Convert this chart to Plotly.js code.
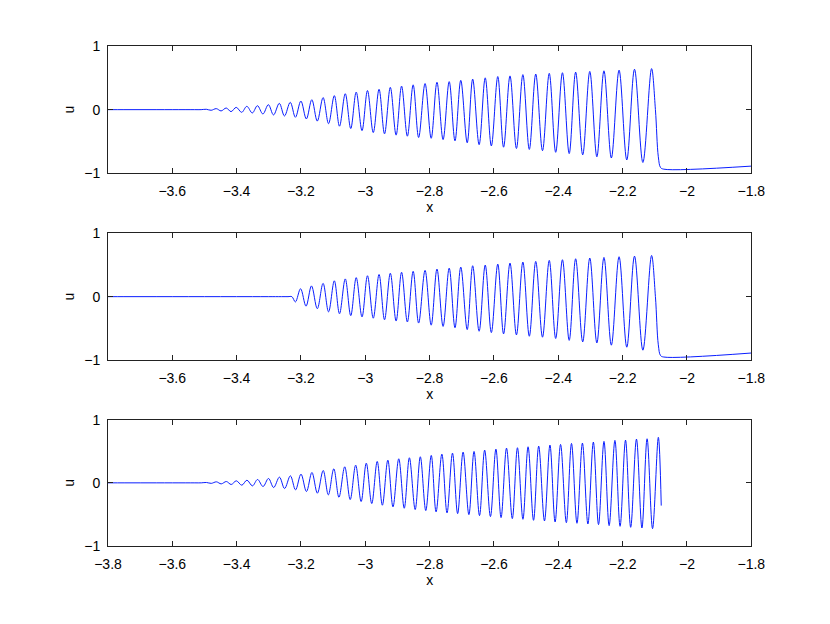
<!DOCTYPE html>
<html>
<head>
<meta charset="utf-8">
<script src="https://cdn.plot.ly/plotly-3.0.1.min.js"></script>
<style>html,body{margin:0;padding:0;background:#fff;}#chart{width:830px;height:624px;}</style>
</head>
<body>
<div id="chart"></div>
<script>
// ---------- Panel 1 ----------
const P1_PEAK_X = [-3.494,-3.463,-3.432,-3.401,-3.368,-3.335,-3.301,-3.267,-3.233,-3.200,-3.166,-3.131,-3.096,-3.062,-3.028,-2.993,-2.957,-2.922,-2.887,-2.851,-2.814,-2.777,-2.739,-2.703,-2.666,-2.627,-2.588,-2.550,-2.510,-2.470,-2.428,-2.387,-2.346,-2.302,-2.258,-2.211,-2.163,-2.110];
const P1_PEAK_U = [0.006,0.016,0.026,0.036,0.052,0.062,0.078,0.099,0.115,0.135,0.156,0.19,0.22,0.25,0.276,0.30,0.32,0.35,0.37,0.39,0.41,0.43,0.44,0.46,0.48,0.50,0.52,0.53,0.55,0.56,0.57,0.58,0.59,0.60,0.61,0.62,0.635,0.645];
const P1_TROUGH_X = [-3.479,-3.448,-3.417,-3.384,-3.351,-3.318,-3.285,-3.251,-3.217,-3.183,-3.149,-3.114,-3.080,-3.045,-3.010,-2.975,-2.940,-2.904,-2.869,-2.834,-2.795,-2.758,-2.721,-2.683,-2.646,-2.608,-2.570,-2.530,-2.490,-2.449,-2.408,-2.366,-2.324,-2.280,-2.235,-2.187,-2.137];
const P1_TROUGH_U = [-0.01,-0.02,-0.031,-0.042,-0.052,-0.068,-0.083,-0.099,-0.12,-0.146,-0.18,-0.22,-0.26,-0.297,-0.33,-0.36,-0.38,-0.40,-0.417,-0.437,-0.45,-0.47,-0.49,-0.52,-0.55,-0.57,-0.59,-0.61,-0.625,-0.645,-0.67,-0.69,-0.71,-0.74,-0.76,-0.79,-0.83];
const P1_EDGE_X = [-3.8,-3.75,-3.7,-3.65,-3.6,-3.56,-3.53,-3.51,-2.098,-2.089,-2.082,-2.072,-1.8];
const P1_EDGE_U = [0,0,0,0,0,0,0,0,0.0,-0.74,-0.91,-0.935,-0.887];

// ---------- Panel 2 ----------
const P2_PEAK_X = [-3.201,-3.167,-3.131,-3.096,-3.062,-3.028,-2.993,-2.957,-2.922,-2.887,-2.851,-2.814,-2.777,-2.739,-2.703,-2.666,-2.627,-2.588,-2.550,-2.510,-2.470,-2.428,-2.387,-2.346,-2.302,-2.258,-2.211,-2.163,-2.110];
const P2_PEAK_U = [0.125,0.17,0.21,0.25,0.28,0.30,0.33,0.35,0.37,0.385,0.40,0.415,0.436,0.45,0.467,0.488,0.499,0.514,0.53,0.546,0.556,0.572,0.583,0.598,0.609,0.619,0.63,0.64,0.65];
const P2_TROUGH_X = [-3.217,-3.184,-3.149,-3.114,-3.080,-3.045,-3.010,-2.975,-2.940,-2.904,-2.869,-2.834,-2.795,-2.758,-2.721,-2.683,-2.646,-2.608,-2.570,-2.530,-2.490,-2.449,-2.408,-2.366,-2.324,-2.280,-2.235,-2.187,-2.137];
const P2_TROUGH_U = [-0.083,-0.15,-0.19,-0.24,-0.27,-0.30,-0.32,-0.34,-0.365,-0.385,-0.40,-0.417,-0.45,-0.47,-0.49,-0.52,-0.546,-0.567,-0.588,-0.604,-0.625,-0.64,-0.66,-0.69,-0.714,-0.73,-0.766,-0.798,-0.845];
const P2_EDGE_X = [-3.8,-3.75,-3.7,-3.65,-3.6,-3.55,-3.5,-3.45,-3.4,-3.35,-3.3,-3.26,-3.24,-3.228,-2.098,-2.089,-2.082,-2.072,-1.8];
const P2_EDGE_U = [0,0,0,0,0,0,0,0,0,0,0,0,0,0,0.0,-0.76,-0.93,-0.953,-0.89];

// ---------- Panel 3 ----------
const P3_PEAK_X = [-3.463,-3.432,-3.401,-3.368,-3.335,-3.301,-3.267,-3.233,-3.200,-3.166,-3.131,-3.098,-3.064,-3.030,-2.997,-2.963,-2.930,-2.896,-2.863,-2.829,-2.795,-2.762,-2.729,-2.696,-2.662,-2.629,-2.594,-2.561,-2.527,-2.494,-2.461,-2.426,-2.393,-2.359,-2.325,-2.291,-2.258,-2.224,-2.191,-2.157,-2.124,-2.089];
const P3_PEAK_U = [0.016,0.021,0.032,0.042,0.053,0.069,0.09,0.111,0.138,0.164,0.196,0.222,0.254,0.28,0.312,0.339,0.36,0.381,0.397,0.413,0.434,0.455,0.471,0.487,0.497,0.519,0.534,0.55,0.556,0.571,0.582,0.598,0.608,0.624,0.63,0.646,0.656,0.672,0.677,0.693,0.698,0.72];
const P3_TROUGH_X = [-3.448,-3.417,-3.384,-3.351,-3.318,-3.285,-3.251,-3.217,-3.183,-3.149,-3.115,-3.082,-3.047,-3.013,-2.980,-2.947,-2.914,-2.879,-2.845,-2.812,-2.780,-2.746,-2.713,-2.678,-2.645,-2.611,-2.578,-2.543,-2.510,-2.477,-2.443,-2.410,-2.375,-2.342,-2.308,-2.275,-2.242,-2.208,-2.175,-2.140,-2.107];
const P3_TROUGH_U = [-0.016,-0.026,-0.037,-0.048,-0.058,-0.074,-0.09,-0.111,-0.138,-0.164,-0.19,-0.228,-0.265,-0.296,-0.328,-0.354,-0.381,-0.402,-0.423,-0.439,-0.46,-0.476,-0.487,-0.503,-0.519,-0.534,-0.55,-0.566,-0.577,-0.593,-0.603,-0.619,-0.63,-0.64,-0.651,-0.661,-0.677,-0.688,-0.704,-0.714,-0.725];
const P3_SMALL_X = [-3.494,-3.479];
const P3_SMALL_U = [0.006,-0.008];
const P3_EDGE_X = [-3.8,-3.75,-3.7,-3.65,-3.6,-3.56,-3.53,-3.51,-2.080];
const P3_EDGE_U = [0,0,0,0,0,0,0,0,-0.36];

// ---------- Axes ----------
const X_TICKS_TOP = [-3.6,-3.4,-3.2,-3,-2.8,-2.6,-2.4,-2.2,-2,-1.8];
const X_TICKS_BOTTOM = [-3.8,-3.6,-3.4,-3.2,-3,-2.8,-2.6,-2.4,-2.2,-2,-1.8];
const U_TICKS = [-1,0,1];
const X_LABEL = 'x';
const U_LABEL = 'u';

function merge(lists) {
  const pts = [];
  lists.forEach(([xs, us]) => xs.forEach((x, i) => pts.push([x, us[i]])));
  pts.sort((a, b) => a[0] - b[0]);
  return { x: pts.map(p => p[0]), y: pts.map(p => p[1]) };
}

const LINE = { color: '#0a1eff', width: 1, shape: 'spline', smoothing: 1 };

const s1 = merge([[P1_EDGE_X, P1_EDGE_U], [P1_PEAK_X, P1_PEAK_U], [P1_TROUGH_X, P1_TROUGH_U]]);
const s2 = merge([[P2_EDGE_X, P2_EDGE_U], [P2_PEAK_X, P2_PEAK_U], [P2_TROUGH_X, P2_TROUGH_U]]);
const s3 = merge([[P3_EDGE_X, P3_EDGE_U], [P3_SMALL_X, P3_SMALL_U], [P3_PEAK_X, P3_PEAK_U], [P3_TROUGH_X, P3_TROUGH_U]]);

const traces = [
  { x: s1.x, y: s1.y, xaxis: 'x', yaxis: 'y', mode: 'lines', line: LINE, hoverinfo: 'skip' },
  { x: s2.x, y: s2.y, xaxis: 'x2', yaxis: 'y2', mode: 'lines', line: LINE, hoverinfo: 'skip' },
  { x: s3.x, y: s3.y, xaxis: 'x3', yaxis: 'y3', mode: 'lines', line: LINE, hoverinfo: 'skip' }
];

const FONT = { family: 'Liberation Sans, Arial, Helvetica, sans-serif', size: 14, color: '#000' };
const XDOM = [108 / 830, 751.3 / 830];

function xax(anchor, range, ticks) {
  return {
    domain: XDOM, anchor: anchor, range: range, tickvals: ticks,
    ticks: 'inside', ticklen: 5, tickwidth: 1, tickcolor: '#222',
    mirror: 'allticks', showline: true, linecolor: '#222', linewidth: 1,
    showgrid: false, zeroline: false, automargin: false,
    tickfont: FONT, ticklabelstandoff: 5,
    title: { text: X_LABEL, font: FONT, standoff: 2 }
  };
}
function yax(anchor, dom) {
  return {
    domain: dom, anchor: anchor, range: [-1, 1], tickvals: U_TICKS,
    ticks: 'inside', ticklen: 5, tickwidth: 1, tickcolor: '#222',
    mirror: 'allticks', showline: true, linecolor: '#222', linewidth: 1,
    showgrid: false, zeroline: false, automargin: false,
    tickfont: FONT, ticklabelstandoff: 4,
    title: { text: U_LABEL, font: FONT, standoff: 6 }
  };
}

const layout = {
  width: 830, height: 624,
  margin: { l: 0, r: 0, t: 0, b: 0 },
  paper_bgcolor: '#fff', plot_bgcolor: '#fff',
  showlegend: false,
  font: FONT,
  xaxis: xax('y', [-3.7995, -1.8], X_TICKS_TOP),
  yaxis: yax('x', [1 - 173.3 / 624, 1 - 46 / 624]),
  xaxis2: xax('y2', [-3.7995, -1.8], X_TICKS_TOP),
  yaxis2: yax('x2', [1 - 360 / 624, 1 - 233.3 / 624]),
  xaxis3: xax('y3', [-3.8, -1.8], X_TICKS_BOTTOM),
  yaxis3: yax('x3', [1 - 546 / 624, 1 - 419.7 / 624])
};

Plotly.newPlot('chart', traces, layout, { staticPlot: true, displayModeBar: false });
</script>
</body>
</html>
